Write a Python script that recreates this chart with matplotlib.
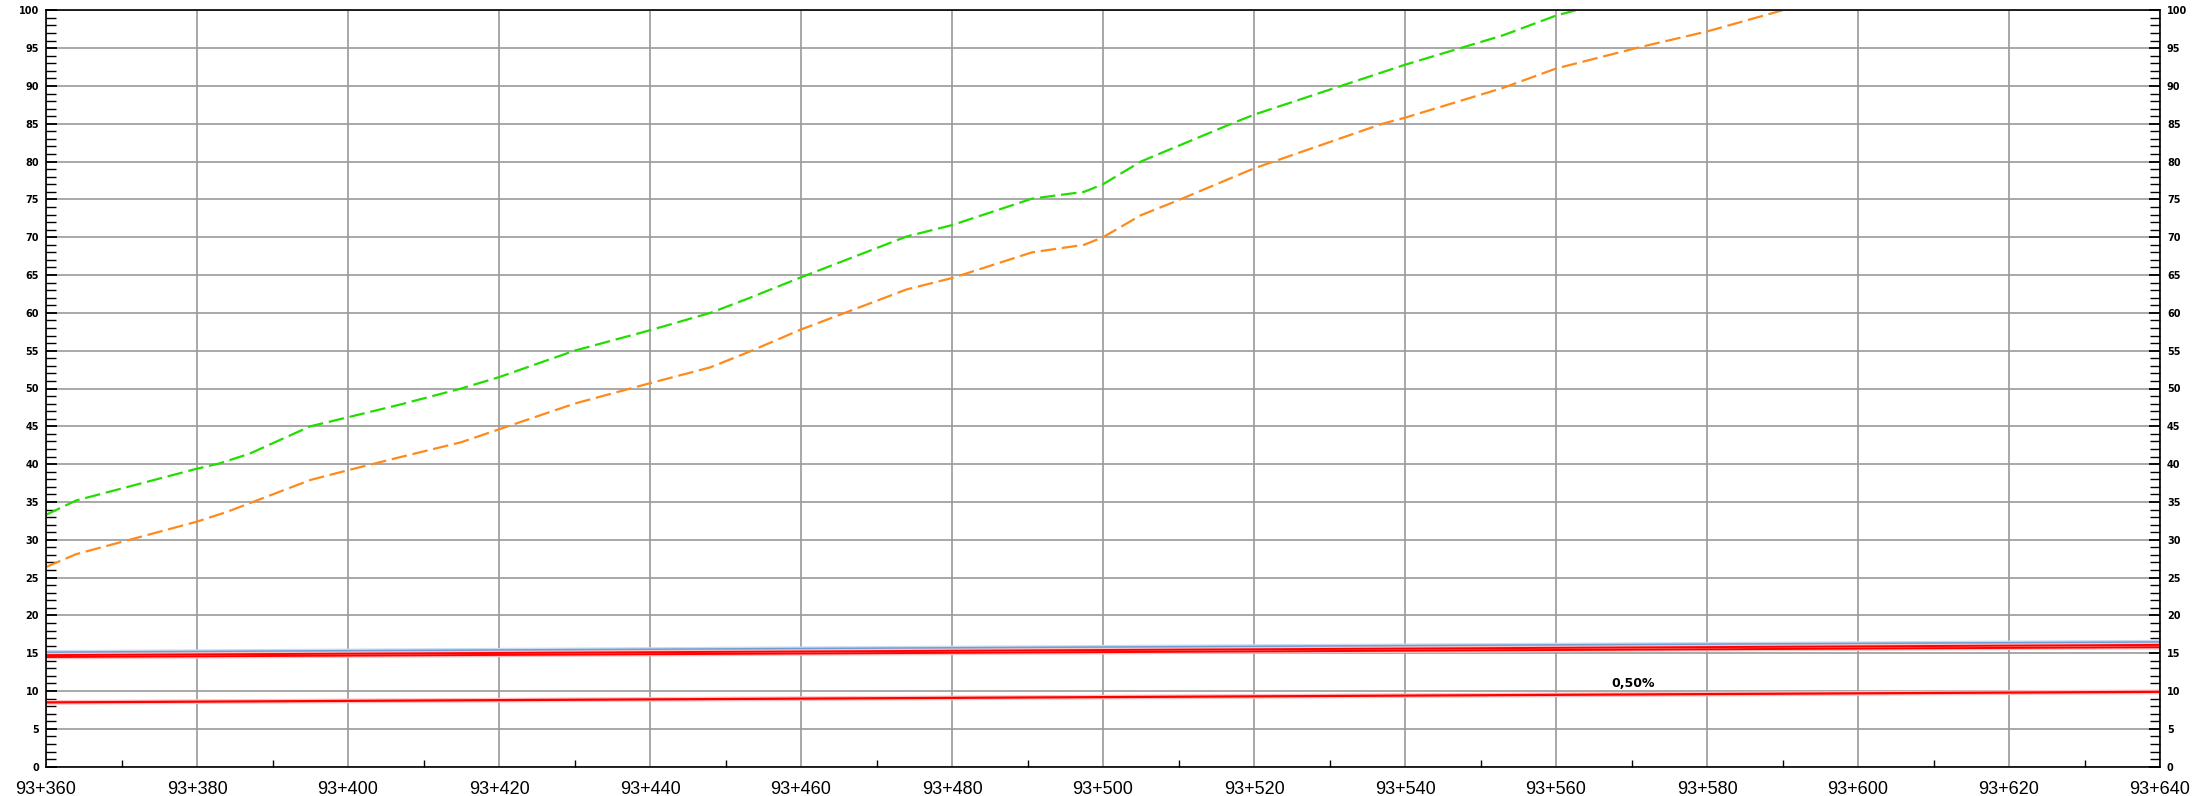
import matplotlib
matplotlib.use("Agg")
import matplotlib.pyplot as plt
from matplotlib.ticker import MultipleLocator, FuncFormatter

# ---- data ----
green_x = [360, 364, 380, 383, 387, 395, 400, 407, 415, 420, 430, 440, 448, 453,
           460, 474, 480, 490.6, 497.5, 500, 505, 517, 520, 540, 553, 560, 562.6]
green_y = [33.3, 35.2, 39.4, 40.1, 41.4, 45.0, 46.2, 47.9, 50.0, 51.5, 55.0, 57.7, 60.0, 61.9,
           64.7, 70.1, 71.6, 75.1, 76.0, 77.0, 80.0, 85.0, 86.2, 92.8, 96.7, 99.3, 100.0]

orange_x = [360, 364, 380, 384, 395, 400, 407, 415, 420, 430, 440, 448, 453,
            460, 474, 480, 490.6, 497.5, 500, 505, 510, 520, 537, 540, 553, 560, 571, 580, 590]
orange_y = [26.4, 28.1, 32.4, 33.7, 37.9, 39.2, 40.95, 42.9, 44.6, 48.0, 50.7, 52.8, 54.8,
            57.8, 63.1, 64.6, 68.0, 69.0, 70.0, 72.9, 74.9, 79.1, 85.0, 85.8, 89.75, 92.3, 95.1, 97.2, 100.0]

level_x = [360, 640]
blue_y = [15.1, 16.45]
red_a_y = [14.75, 16.1]
red_b_y = [14.5, 15.8]
red_low_y = [8.5, 9.9]

slope_label = "0,50%"
slope_label_x = 570.2
slope_label_y = 11.0

x_min, x_max = 360, 640
y_min, y_max = 0, 100

def chainage(v, pos):
    return f"93+{int(round(v))}"

fig = plt.figure(figsize=(21.99, 7.96), dpi=100)
ax = fig.add_axes([46/2199, 1-766.7/796, (2160-46)/2199, (766.7-10.3)/796])

# grid
for v in range(x_min, x_max + 1, 20):
    ax.axvline(v, color="#8f8f8f", lw=1.1, zorder=1)
for v in range(y_min, y_max + 1, 5):
    ax.axhline(v, color="#9a9a9a", lw=1.2, zorder=1)

# level lines
ax.plot(level_x, blue_y, color="#c9dcf1", lw=3.5, zorder=2, solid_capstyle="butt")
ax.plot(level_x, blue_y, color="#6d9fd6", lw=1.6, zorder=3)
ax.plot(level_x, red_a_y, color="#ffc0c0", lw=3.2, zorder=3)
ax.plot(level_x, red_b_y, color="#ffc0c0", lw=3.2, zorder=3)
ax.plot(level_x, red_a_y, color="#ff0000", lw=1.4, zorder=4)
ax.plot(level_x, red_b_y, color="#ff0000", lw=1.4, zorder=4)
ax.plot(level_x, red_low_y, color="#ffc0c0", lw=3.4, zorder=3)
ax.plot(level_x, red_low_y, color="#ff0000", lw=1.6, zorder=4)

# terrain dashed lines
ax.plot(green_x, green_y, color="#22dd00", lw=1.6, dashes=(7, 2.6), zorder=5)
ax.plot(orange_x, orange_y, color="#ff8a1c", lw=1.6, dashes=(7, 2.6), zorder=5)

ax.text(slope_label_x, slope_label_y, slope_label, ha="center", va="center",
        fontsize=9, fontweight="bold", family="DejaVu Sans", color="black", zorder=6)

ax.set_xlim(x_min, x_max)
ax.set_ylim(y_min, y_max)

ax.xaxis.set_major_locator(MultipleLocator(20))
ax.xaxis.set_minor_locator(MultipleLocator(10))
ax.xaxis.set_major_formatter(FuncFormatter(chainage))
ax.yaxis.set_major_locator(MultipleLocator(5))
ax.yaxis.set_minor_locator(MultipleLocator(1))

ax.tick_params(axis="x", which="major", length=0, pad=10, labelsize=13)
ax.tick_params(axis="x", which="minor", direction="in", length=5, width=1, color="black")
ax.tick_params(axis="y", which="both", direction="in", left=True, right=True,
               labelleft=True, labelright=True, width=1, color="black", pad=5)
ax.tick_params(axis="y", which="major", length=8, width=1.3)
ax.tick_params(axis="y", which="minor", length=7, width=1)

for lab in ax.get_xticklabels():
    lab.set_family("Liberation Sans")
for lab in ax.get_yticklabels():
    lab.set_family("DejaVu Sans")
    lab.set_fontweight("bold")
    lab.set_fontsize(7)

for s in ax.spines.values():
    s.set_color("black")
    s.set_linewidth(1.2)
    s.set_zorder(7)

fig.savefig("out.png", dpi=100, facecolor="white")
